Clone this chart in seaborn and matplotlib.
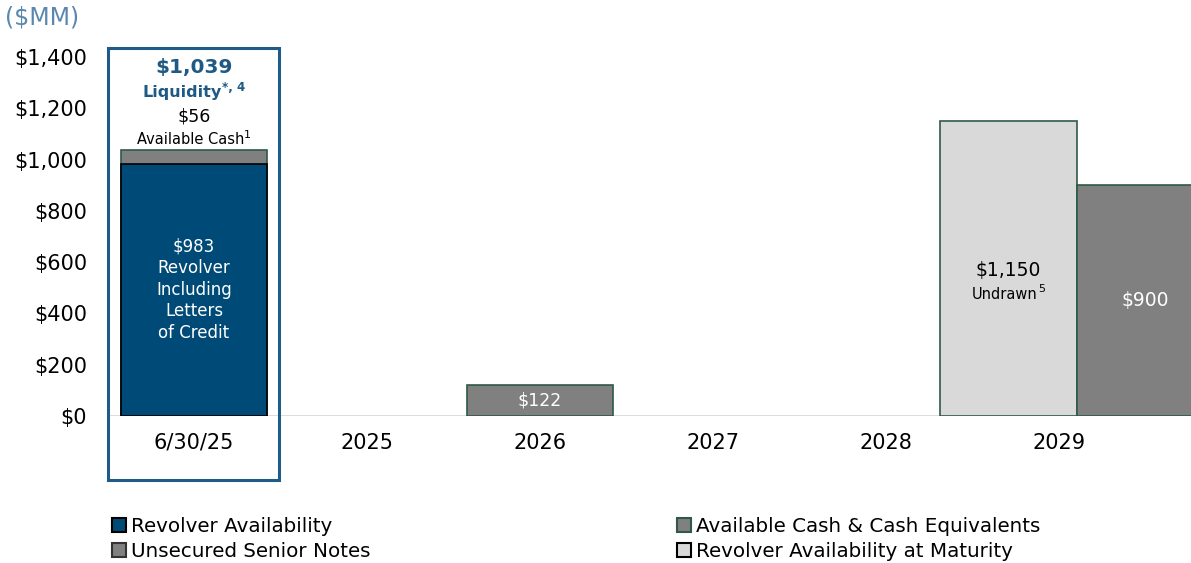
import matplotlib
matplotlib.use("Agg")
import matplotlib.pyplot as plt
import seaborn as sns
import pandas as pd
from matplotlib.patches import Rectangle, Patch
from matplotlib.transforms import offset_copy

# ---- data ($MM) ----
categories = ["6/30/25", "2025", "2026", "2027", "2028", "2029"]
revolver_availability = {"6/30/25": 983}
available_cash = {"6/30/25": 56}
senior_notes = {"2026": 122, "2029": 900}
revolver_at_maturity = {"2029": 1150}
y_ticks = [0, 200, 400, 600, 800, 1000, 1200, 1400]
legend_left = ["Revolver Availability", "Unsecured Senior Notes"]
legend_right = ["Available Cash & Cash Equivalents", "Revolver Availability at Maturity"]

NAVY = "#004A77"
GREY = "#808080"
LIGHT = "#D9D9D9"
GREEN_EDGE = "#2F5A47"
BOX_BLUE = "#1F5B88"
TITLE_BLUE = "#1E5A84"
UNIT_BLUE = "#5A87AE"

sns.set_theme(style="white")
plt.rcParams["font.family"] = ["DejaVu Sans"]
plt.rcParams["text.color"] = "black"

fig = plt.figure(figsize=(11.91, 5.63), dpi=100)
ax = fig.add_axes([108 / 1191, 147 / 563, 1083 / 1191, 359 / 563])

bar_w = 0.84
common = dict(order=categories, errorbar=None, saturation=1, ax=ax, linewidth=1.2)

# 6/30/25 liquidity stack: total (cash on top) then revolver over it
total_liq = revolver_availability["6/30/25"] + available_cash["6/30/25"]
sns.barplot(x=["6/30/25"], y=[total_liq], color=GREY, edgecolor=GREEN_EDGE,
            width=bar_w, **common)
sns.barplot(x=["6/30/25"], y=[revolver_availability["6/30/25"]], color=NAVY,
            edgecolor="black", width=bar_w, **common)

# 2026 notes maturity
sns.barplot(x=["2026"], y=[senior_notes["2026"]], color=GREY,
            edgecolor=GREEN_EDGE, width=bar_w, **common)

# 2029: revolver maturity next to notes maturity
pair = pd.DataFrame({
    "year": ["2029", "2029"],
    "amount": [revolver_at_maturity["2029"], senior_notes["2029"]],
    "kind": ["revolver", "notes"],
})
n_before = len(ax.patches)
sns.barplot(data=pair, x="year", y="amount", hue="kind",
            hue_order=["revolver", "notes"],
            palette={"revolver": LIGHT, "notes": GREY},
            edgecolor=GREEN_EDGE, dodge=True, width=1.584, legend=False,
            **common)
for p in ax.patches[n_before:]:
    p.set_x(p.get_x() + 0.104)

ax.axhline(0, color=LIGHT, lw=2, zorder=0.5)

ax.set_xlim(-0.497, 5.763)
ax.set_ylim(0, 1400)
ax.set_yticks(y_ticks)
ax.set_yticklabels([f"${v:,}" for v in y_ticks])
ax.set_xlabel("")
ax.set_ylabel("")
ax.tick_params(axis="y", length=0, pad=15, labelsize=15, labelcolor="black")
ax.tick_params(axis="x", length=0, pad=12, labelsize=15, labelcolor="black")
sns.despine(ax=ax, left=True, bottom=True)

# liquidity frame around the first column
ax.add_patch(Rectangle((-0.497, -250), 0.988, 1685, fill=False,
                       edgecolor=BOX_BLUE, lw=2.2, clip_on=False, zorder=5))

fig.canvas.draw()
renderer = fig.canvas.get_renderer()


def text_with_sup(x, y, main, sup, size, sup_size, color, weight="normal", rise=6):
    t = ax.text(x, y, main, ha="center", va="center", fontsize=size,
                color=color, fontweight=weight, clip_on=False)
    s = ax.text(x, y, sup, ha="left", va="center", fontsize=sup_size,
                color=color, fontweight=weight, clip_on=False)
    wm = t.get_window_extent(renderer).width
    ws = s.get_window_extent(renderer).width
    t.set_transform(offset_copy(ax.transData, fig, x=-ws / 2, y=0, units="dots"))
    s.set_transform(offset_copy(ax.transData, fig, x=wm / 2 - ws / 2,
                                y=rise, units="dots"))


ax.text(0, 1361, "$1,039", ha="center", va="center", fontsize=14.5,
        fontweight="bold", color=TITLE_BLUE, clip_on=False)
text_with_sup(0, 1262, "Liquidity", "*, 4", 11.5, 8.5, TITLE_BLUE, "bold", rise=5)
ax.text(0, 1168, "$56", ha="center", va="center", fontsize=12.5, color="black")
text_with_sup(0, 1078, "Available Cash", "1", 10.5, 8, "black", rise=5)
ax.text(0, 493, "$983\nRevolver\nIncluding\nLetters\nof Credit", ha="center",
        va="center", fontsize=12, color="white", linespacing=1.25)

ax.text(2, 59, "$122", ha="center", va="center", fontsize=12.5, color="white")
ax.text(4.708, 569, "$1,150", ha="center", va="center", fontsize=13.5,
        color="black")
text_with_sup(4.708, 474, "Undrawn", "5", 10.5, 8, "black", rise=5)
ax.text(5.5, 449, "$900", ha="center", va="center", fontsize=13.5,
        color="white")

fig.text(0.004, 1 - 18 / 563, "($MM)", ha="left", va="center", fontsize=17,
         color=UNIT_BLUE)

leg_kw = dict(frameon=False, fontsize=14.3, handlelength=0.7, handleheight=0.7,
              handletextpad=0.25, labelspacing=0.3, borderpad=0,
              borderaxespad=0, loc="upper left", labelcolor="black")
h_left = [Patch(facecolor=NAVY, edgecolor="black", lw=1.5),
          Patch(facecolor=GREY, edgecolor="#333333", lw=1.5)]
h_right = [Patch(facecolor=GREY, edgecolor=GREEN_EDGE, lw=1.5),
           Patch(facecolor=LIGHT, edgecolor="black", lw=1.5)]
fig.legend(h_left, legend_left, bbox_to_anchor=(112 / 1191, 1 - 517 / 563), **leg_kw)
fig.legend(h_right, legend_right, bbox_to_anchor=(677 / 1191, 1 - 517 / 563), **leg_kw)

fig.savefig("out.png", dpi=100)
